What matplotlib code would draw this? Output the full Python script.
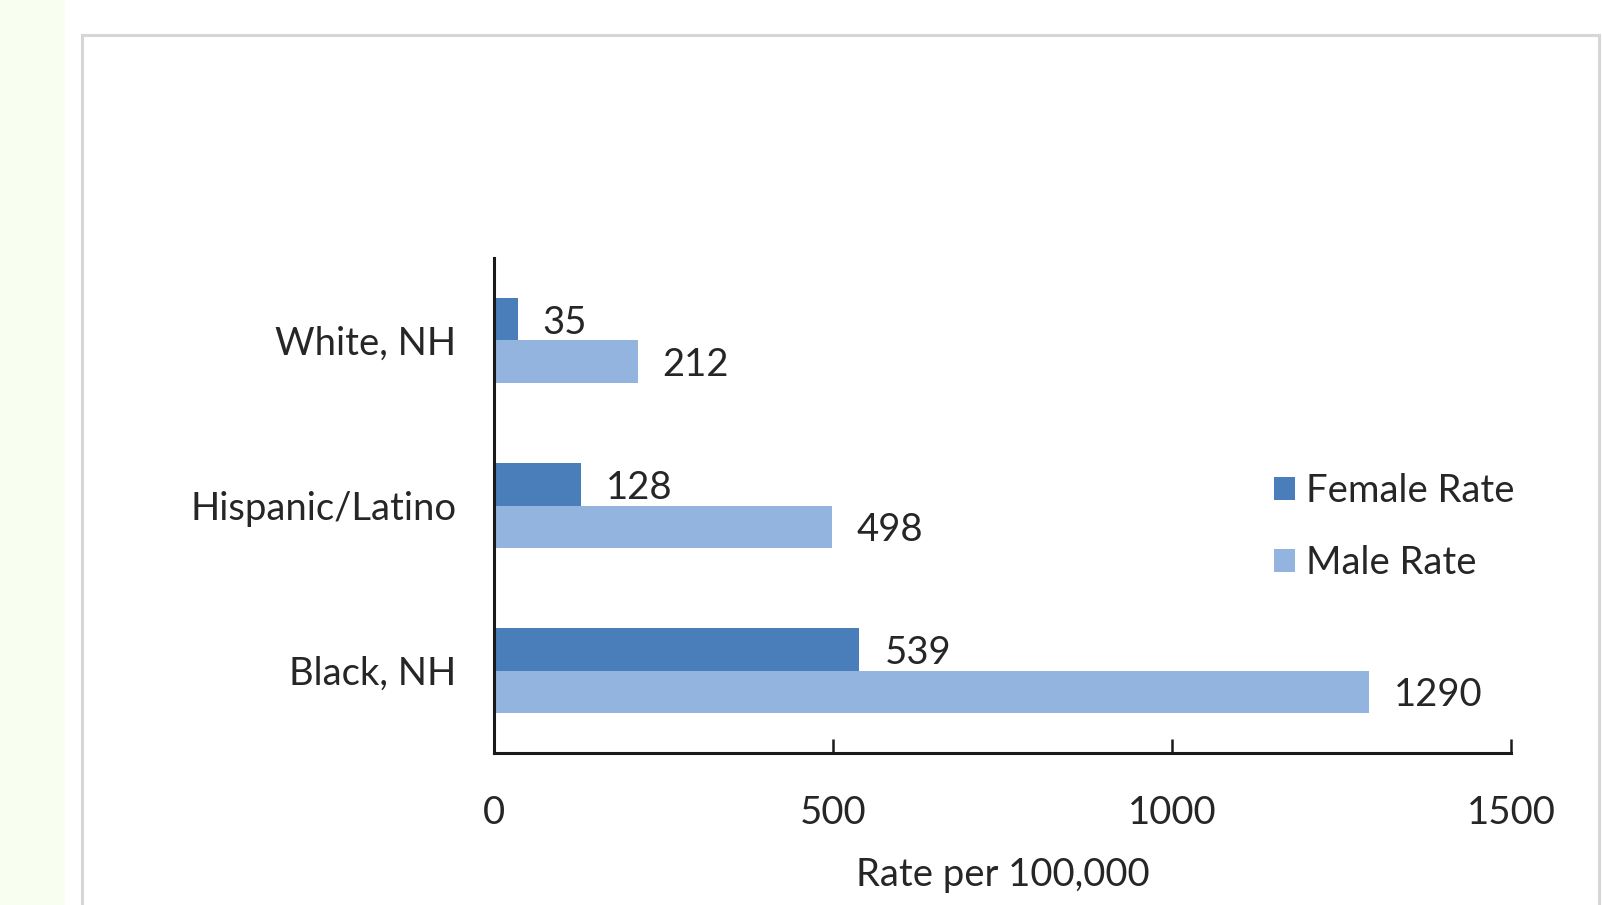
import matplotlib
matplotlib.use("Agg")
import matplotlib.pyplot as plt
import matplotlib.patches as mpatches
import numpy as np

categories = ["Black, NH", "Hispanic/Latino", "White, NH"]
female_rate = [539, 128, 35]
male_rate = [1290, 498, 212]
series_names = ["Female Rate", "Male Rate"]
x_ticks = [0, 500, 1000, 1500]
x_label = "Rate per 100,000"

W, H = 1602, 905
plt.rcParams['font.family'] = ['Lato', 'DejaVu Sans']
TXT = '#262626'
FS = 27.5

fig = plt.figure(figsize=(W / 100, H / 100), dpi=100)
fig.patch.set_facecolor('white')

# background decorations: light green strip and chart border
fig.patches.append(mpatches.Rectangle((0, 0), 65 / W, 1, transform=fig.transFigure,
                                      facecolor='#f8fff0', edgecolor='none', zorder=-5))
fig.patches.append(mpatches.Rectangle((82 / W, -0.05), (1599 - 82) / W, 1.05 - 35 / H,
                                      transform=fig.transFigure, facecolor='none',
                                      edgecolor='#d6d6d6', linewidth=2.2, zorder=-5))

left, right, bottom, top = 494 / W, 1511 / W, 1 - 753 / H, 1 - 258 / H
ax = fig.add_axes([left, bottom, right - left, top - bottom])
ax.set_facecolor('none')

y = np.arange(len(categories))
h = 0.26
c_f = '#4a7eba'
c_m = '#93b4de'
bf = ax.barh(y + h / 2, female_rate, height=h, color=c_f, label=series_names[0])
bm = ax.barh(y - h / 2, male_rate, height=h, color=c_m, label=series_names[1])
for yy, vals in ((y + h / 2, female_rate), (y - h / 2, male_rate)):
    for yi, v in zip(yy, vals):
        ax.annotate(str(v), xy=(v, yi), xytext=(18, -2.5), textcoords='offset points',
                    ha='left', va='center', fontsize=FS, color=TXT)

ax.set_xlim(0, 1500)
ax.set_ylim(-0.5, len(categories) - 0.5)
ax.set_xticks(x_ticks)
ax.set_xticklabels([str(t) for t in x_ticks])
ax.set_yticks(y)
ax.set_yticklabels(categories)

for s in ['top', 'right']:
    ax.spines[s].set_visible(False)
for s in ['left', 'bottom']:
    ax.spines[s].set_linewidth(2.2)
    ax.spines[s].set_color('#1a1a1a')
    ax.spines[s].set_capstyle('projecting')

ax.tick_params(axis='x', direction='in', length=10, width=1.8, color='#1a1a1a',
               labelsize=FS, labelcolor=TXT, pad=30)
ax.tick_params(axis='y', length=0, labelsize=FS, labelcolor=TXT, pad=27)
ax.set_xlabel(x_label, fontsize=FS, color=TXT, labelpad=19)

leg = fig.legend(handles=[bf, bm], labels=series_names, loc='center left',
                 bbox_to_anchor=(1274 / W, 1 - 527 / H), frameon=False, fontsize=FS,
                 handlelength=0.55, handleheight=0.55, handletextpad=0.3,
                 labelspacing=0.95, borderpad=0, borderaxespad=0)
for t in leg.get_texts():
    t.set_color(TXT)

fig.savefig('out.png', dpi=100)
